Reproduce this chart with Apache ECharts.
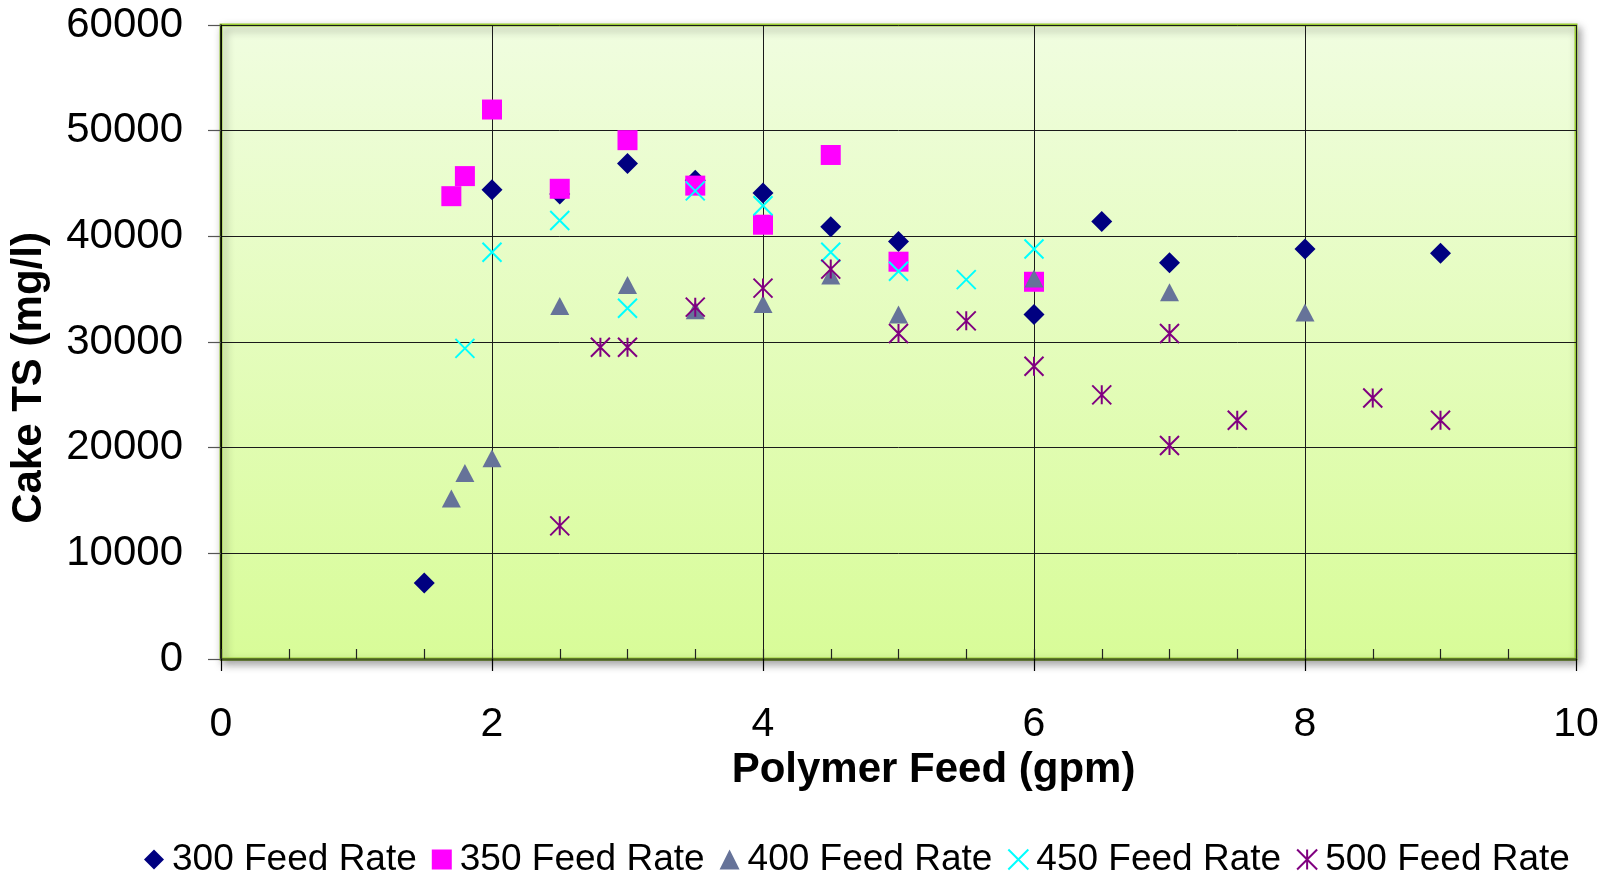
<!DOCTYPE html>
<html>
<head>
<meta charset="utf-8">
<script src="https://cdn.jsdelivr.net/npm/echarts@6/dist/echarts.min.js"></script>
<style>
  html, body { margin: 0; padding: 0; background: #ffffff; }
  #chart { width: 1612px; height: 873px; }
</style>
</head>
<body>
<div id="chart"></div>
<script>
// ---- Data ----
const feed300X = [1.5, 2, 2.5, 3, 3.5, 4, 4.5, 5, 6, 6.5, 7, 8, 9];
const feed300Y = [7200, 44400, 44000, 46900, 45300, 44100, 40900, 39500, 32600, 41400, 37500, 38800, 38400];

const feed350X = [1.7, 1.8, 2, 2.5, 3, 3.5, 4, 4.5, 5, 6];
const feed350Y = [43800, 45700, 52000, 44500, 49100, 44800, 41100, 47700, 37600, 35700];

const feed400X = [1.7, 1.8, 2, 2.5, 3, 3.5, 4, 4.5, 5, 6, 7, 8];
const feed400Y = [15200, 17600, 19000, 33400, 35400, 33000, 33600, 36300, 32600, 36000, 34700, 32800];

const feed450X = [1.8, 2, 2.5, 3, 3.5, 4, 4.5, 5, 5.5, 6];
const feed450Y = [29400, 38500, 41500, 33200, 44300, 42900, 38500, 36700, 35900, 38800];

const feed500X = [2.5, 2.8, 3, 3.5, 4, 4.5, 5, 5.5, 6, 6.5, 7, 7, 7.5, 8.5, 9];
const feed500Y = [12600, 29500, 29500, 33300, 35100, 36900, 30800, 32000, 27700, 25000, 30800, 20200, 22600, 24700, 22600];

const seriesNames = ['300 Feed Rate', '350 Feed Rate', '400 Feed Rate', '450 Feed Rate', '500 Feed Rate'];
const xTickLabels = [0, 2, 4, 6, 8, 10];
const yTickLabels = [0, 10000, 20000, 30000, 40000, 50000, 60000];
const xTitle = 'Polymer Feed (gpm)';
const yTitle = 'Cake TS (mg/l)';

// ---- Build ----
function pairs(xs, ys) { return xs.map((x, i) => [x, ys[i]]); }

const FONT = '"Liberation Sans", Arial, sans-serif';
const crossPath = 'path://M0,0L10,10M10,0L0,10';
const starPath = 'path://M0,0L10,10M10,0L0,10M5,0L5,10';

const styles = [
  { symbol: 'diamond', size: 21, itemStyle: { color: '#000080', opacity: 1 } },
  { symbol: 'rect', size: 20, itemStyle: { color: '#FF00FF', opacity: 1 } },
  { symbol: 'triangle', size: [19, 18], itemStyle: { color: '#667399', opacity: 1 } },
  { symbol: crossPath, size: 19, itemStyle: { color: '#00FFFF', borderColor: '#00FFFF', borderWidth: 2, opacity: 1 } },
  { symbol: starPath, size: 19, itemStyle: { color: '#800080', borderColor: '#800080', borderWidth: 2, opacity: 1 } }
];
const dataSets = [
  pairs(feed300X, feed300Y),
  pairs(feed350X, feed350Y),
  pairs(feed400X, feed400Y),
  pairs(feed450X, feed450Y),
  pairs(feed500X, feed500Y)
];

const chart = echarts.init(document.getElementById('chart'), null, { renderer: 'canvas' });

const option = {
  animation: false,
  backgroundColor: '#ffffff',
  grid: {
    left: 221, top: 25, width: 1355, height: 634,
    show: true,
    backgroundColor: {
      type: 'linear', x: 0, y: 0, x2: 0, y2: 1,
      colorStops: [
        { offset: 0, color: '#F0FDE0' },
        { offset: 1, color: '#D8FC98' }
      ]
    },
    borderColor: '#99CC33',
    borderWidth: 3,
    shadowColor: 'rgba(0,0,0,0.35)',
    shadowBlur: 8,
    shadowOffsetX: 3,
    shadowOffsetY: 4
  },
  legend: {
    data: seriesNames,
    left: 139,
    top: 836,
    itemWidth: 20,
    itemHeight: 20,
    itemGap: 15,
    textStyle: { fontFamily: FONT, fontSize: 37, color: '#000', padding: [0, 0, 0, 3] }
  },
  xAxis: [
    {
      type: 'value',
      min: xTickLabels[0],
      max: xTickLabels[xTickLabels.length - 1],
      interval: 2,
      position: 'bottom',
      name: xTitle,
      nameLocation: 'middle',
      nameGap: 87,
      nameTextStyle: { fontFamily: FONT, fontSize: 42, fontWeight: 'bold', color: '#000', padding: [0, 0, 0, 70] },
      axisLine: { show: true, onZero: false, lineStyle: { color: '#4A5E23', width: 2.5 } },
      axisTick: { show: true, inside: false, length: 12, lineStyle: { color: '#000', width: 1.2 } },
      axisLabel: { show: true, margin: 45, fontFamily: FONT, fontSize: 41, color: '#000',
        formatter: (v) => String(v) },
      splitLine: { show: true, lineStyle: { color: '#1a1a1a', width: 1 } }
    },
    {
      type: 'value',
      min: xTickLabels[0],
      max: xTickLabels[xTickLabels.length - 1],
      interval: 0.5,
      position: 'bottom',
      axisLine: { show: false },
      axisTick: { show: true, inside: true, length: 10, lineStyle: { color: '#222', width: 1.2 } },
      axisLabel: { show: false },
      splitLine: { show: false }
    }
  ],
  yAxis: {
    type: 'value',
    min: yTickLabels[0],
    max: yTickLabels[yTickLabels.length - 1],
    interval: 10000,
    name: yTitle,
    nameLocation: 'middle',
    nameGap: 171,
    nameRotate: 90,
    nameTextStyle: { fontFamily: FONT, fontSize: 42, fontWeight: 'bold', color: '#000', padding: [0, 72, 0, 0] },
    axisLine: { show: true, onZero: false, lineStyle: { color: '#000', width: 1.5 } },
    axisTick: { show: true, inside: false, length: 13, lineStyle: { color: '#555', width: 1.2 } },
    axisLabel: { show: true, margin: 38, fontFamily: FONT, fontSize: 42, color: '#000',
      formatter: (v) => String(v) },
    splitLine: { show: true, lineStyle: { color: '#1a1a1a', width: 1 } }
  },
  series: seriesNames.map((name, i) => ({
    name: name,
    type: 'scatter',
    xAxisIndex: 0,
    yAxisIndex: 0,
    symbol: styles[i].symbol,
    symbolSize: styles[i].size,
    itemStyle: styles[i].itemStyle,
    data: dataSets[i],
    z: 3 + i
  }))
};

chart.setOption(option);
</script>
</body>
</html>
